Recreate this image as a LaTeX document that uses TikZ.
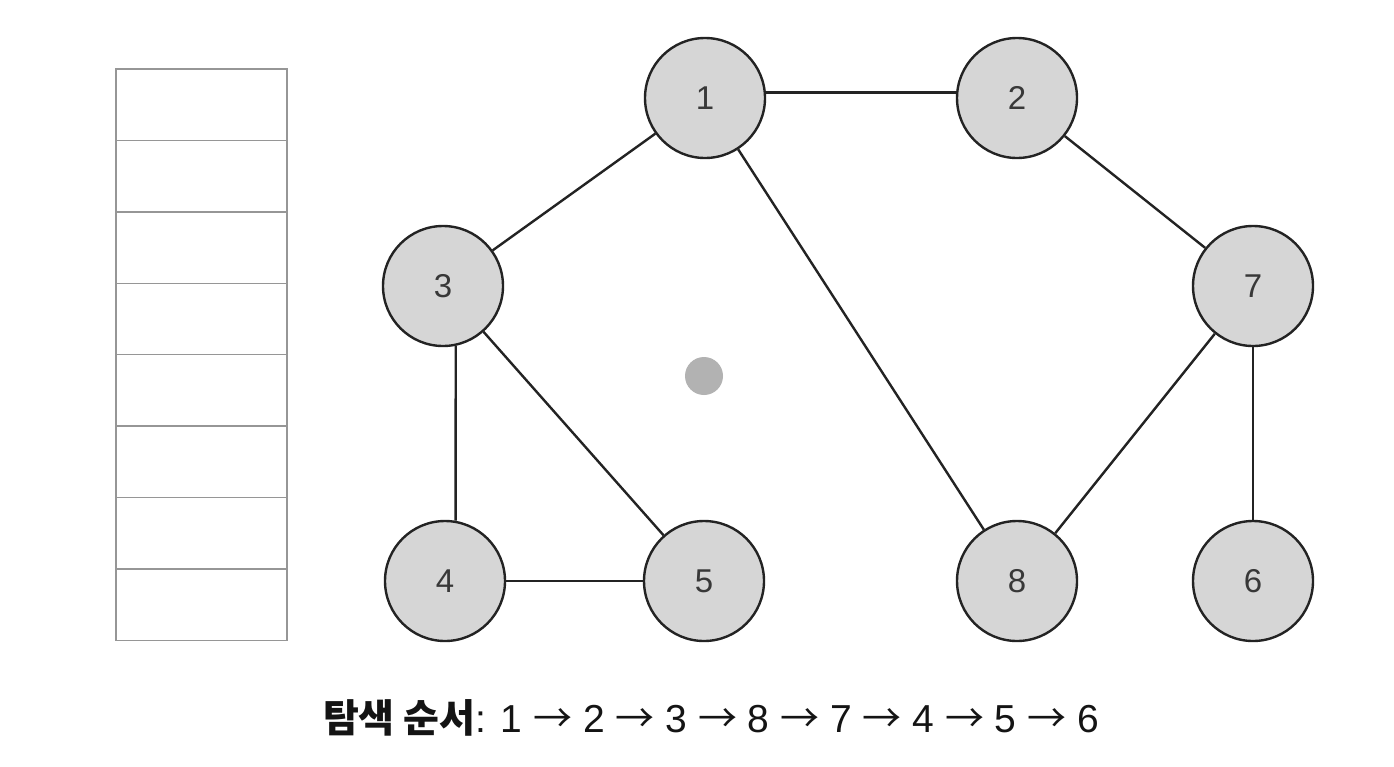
\documentclass[tikz,border=0pt]{standalone}
\usepackage{fontspec}
\setmainfont{Liberation Sans}
\newfontfamily\krfont{Noto Sans CJK KR}
\newcommand\myarr{{\krfont →}}
\definecolor{vfill}{RGB}{214,214,214}
\definecolor{vline}{RGB}{35,35,35}
\definecolor{boxline}{RGB}{150,150,150}
\definecolor{dotc}{RGB}{178,178,178}
\begin{document}
\begin{tikzpicture}[x=1pt,y=-1pt,
  vtx/.style={circle,draw=vline,line width=2.4pt,fill=vfill,minimum size=120pt,inner sep=0pt,
    font=\fontsize{33}{33}\selectfont,text=black!78},
  edge/.style={draw=vline,line width=2.4pt},
  cell/.style={draw=boxline,line width=1.4pt,minimum width=171pt,minimum height=71.4pt,inner sep=0pt}]
\useasboundingbox[fill=white] (0,0) rectangle (1394,766);
% stack
\foreach \i in {0,...,7}{
  \node[cell] (c\i) at (201.5,{104.7+71.4*\i}) {};
}
% vertices
\node[vtx] (n1) at (705,98) {1};
\node[vtx] (n2) at (1017,98) {2};
\node[vtx] (n3) at (443,286) {3};
\node[vtx] (n7) at (1253,286) {7};
\node[vtx] (n4) at (445,581) {4};
\node[vtx] (n5) at (704,581) {5};
\node[vtx] (n8) at (1017,581) {8};
\node[vtx] (n6) at (1253,581) {6};
% edges
\path[edge] (n1.5) -- (n2.175);
\path[edge] (n1) -- (n3);
\path[edge] (n1) -- (n8);
\path[edge] (n2) -- (n7);
\path[edge] (n3.-78) -- (n4.80);
\path[edge] (n3) -- (n5);
\path[edge] (n4) -- (n5);
\path[edge] (n7) -- (n8);
\path[edge] (n7) -- (n6);
% dot
\node[circle,fill=dotc,minimum size=38pt,inner sep=0pt] (dot) at (704,376) {};
% caption
\node[anchor=center,text=black!92] (cap) at (711,718) {\fontsize{39}{39}\selectfont{\krfont\bfseries 탐색 순서}: 1 \myarr{} 2 \myarr{} 3 \myarr{} 8 \myarr{} 7 \myarr{} 4 \myarr{} 5 \myarr{} 6};
\end{tikzpicture}
\end{document}
